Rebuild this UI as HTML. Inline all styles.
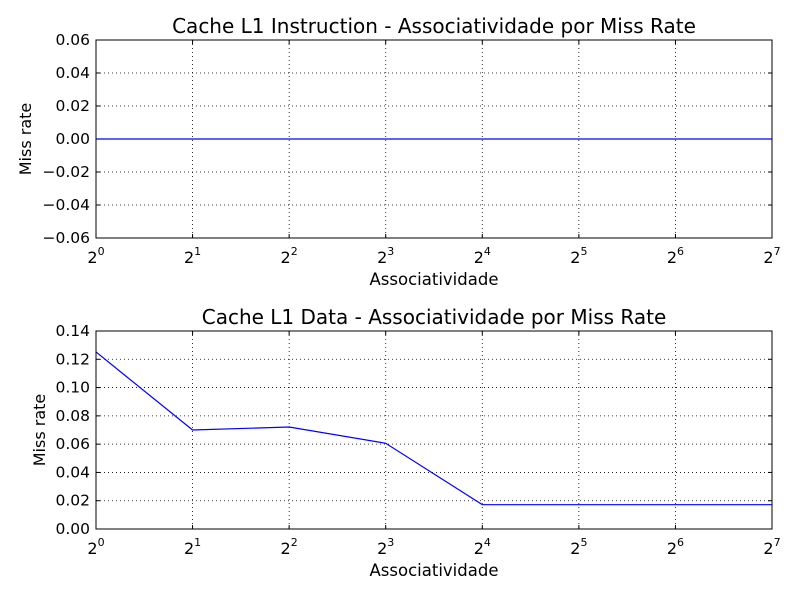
<!DOCTYPE html>
<html><head><meta charset="utf-8"><style>
body{margin:0;background:#fff}
svg{font-family:"DejaVu Sans","Liberation Sans",sans-serif}
</style></head><body>
<svg id="chart" width="800" height="600"></svg>
<script>
const exps=[0,1,2,3,4,5,6,7];
const instrValues=[0,0,0,0,0,0,0,0];
const dataValues=[0.1252,0.070,0.0721,0.0606,0.0172,0.0172,0.0172,0.0172];
const instrTicks=[-0.06,-0.04,-0.02,0.00,0.02,0.04,0.06];
const instrTickLabels=["\u22120.06","\u22120.04","\u22120.02","0.00","0.02","0.04","0.06"];
const dataTicks=[0,0.02,0.04,0.06,0.08,0.10,0.12,0.14];
const dataTickLabels=["0.00","0.02","0.04","0.06","0.08","0.10","0.12","0.14"];
const NS="http://www.w3.org/2000/svg";
const svg=document.getElementById('chart');
function mk(t,a,p){const e=document.createElementNS(NS,t);for(const k in a)e.setAttribute(k,a[k]);(p||svg).appendChild(e);return e;}
function panel(name,top,bottom,ymin,ymax,ticks,labels,vals,title,ylabX){
  const L=96,R=772;
  const g=mk('g',{});
  
  
  const x=e=>L+(R-L)*e/7;
  const y=v=>bottom-(bottom-top)*(v-ymin)/(ymax-ymin);
  ticks.forEach((t,i)=>{
    const yy=y(t);
    if(i>0&&i<ticks.length-1){const gl=mk('line',{x1:L,x2:R,y1:yy,y2:yy,stroke:'#000','stroke-dasharray':'1,3','stroke-width':0.8},g);}
    mk('line',{x1:L,x2:L+4,y1:yy,y2:yy,stroke:'#000'},g);
    mk('line',{x1:R-4,x2:R,y1:yy,y2:yy,stroke:'#000'},g);
    const tl=mk('text',{x:L-6,y:yy+5,'text-anchor':'end','font-size':15.5},g);tl.textContent=labels[i];
    
  });
  exps.forEach((e,i)=>{
    const xx=x(e);
    if(i>0&&i<exps.length-1){const gl=mk('line',{x1:xx,x2:xx,y1:top,y2:bottom,stroke:'#000','stroke-dasharray':'1,3','stroke-width':0.8},g);}
    mk('line',{x1:xx,x2:xx,y1:bottom,y2:bottom-4,stroke:'#000'},g);
    mk('line',{x1:xx,x2:xx,y1:top,y2:top+4,stroke:'#000'},g);
    const tl=mk('text',{x:xx,y:bottom+25,'text-anchor':'middle','font-size':16},g);
    
    tl.textContent='2';const s=mk('tspan',{dy:-8,'font-size':11},tl);s.textContent=e;
  });
  const pts=vals.map((v,i)=>x(exps[i])+','+y(v)).join(' ');
  const ln=mk('polyline',{points:pts,fill:'none',stroke:'#0000ff','stroke-width':1.2},g);
  
  const fr=mk('rect',{x:L,y:top,width:R-L,height:bottom-top,fill:'none',stroke:'#000','stroke-width':1},g);
  
  const t=mk('text',{x:(L+R)/2-0,y:top-7,'text-anchor':'middle','font-size':20},g);t.textContent=title;
  
  const xl=mk('text',{x:(L+R)/2-0,y:bottom+47,'text-anchor':'middle','font-size':16.5},g);xl.textContent='Associatividade';
  
  const cy=(top+bottom)/2;
  const yl=mk('text',{x:ylabX,y:cy,'text-anchor':'middle','font-size':16,transform:`rotate(-90 ${ylabX} ${cy})`},g);yl.textContent='Miss rate';
  
}
panel('instruction-panel',40,238,-0.06,0.06,instrTicks,instrTickLabels,instrValues,'Cache L1 Instruction - Associatividade por Miss Rate',31);
panel('data-panel',331,529,0,0.14,dataTicks,dataTickLabels,dataValues,'Cache L1 Data - Associatividade por Miss Rate',45);
</script>
</body></html>
